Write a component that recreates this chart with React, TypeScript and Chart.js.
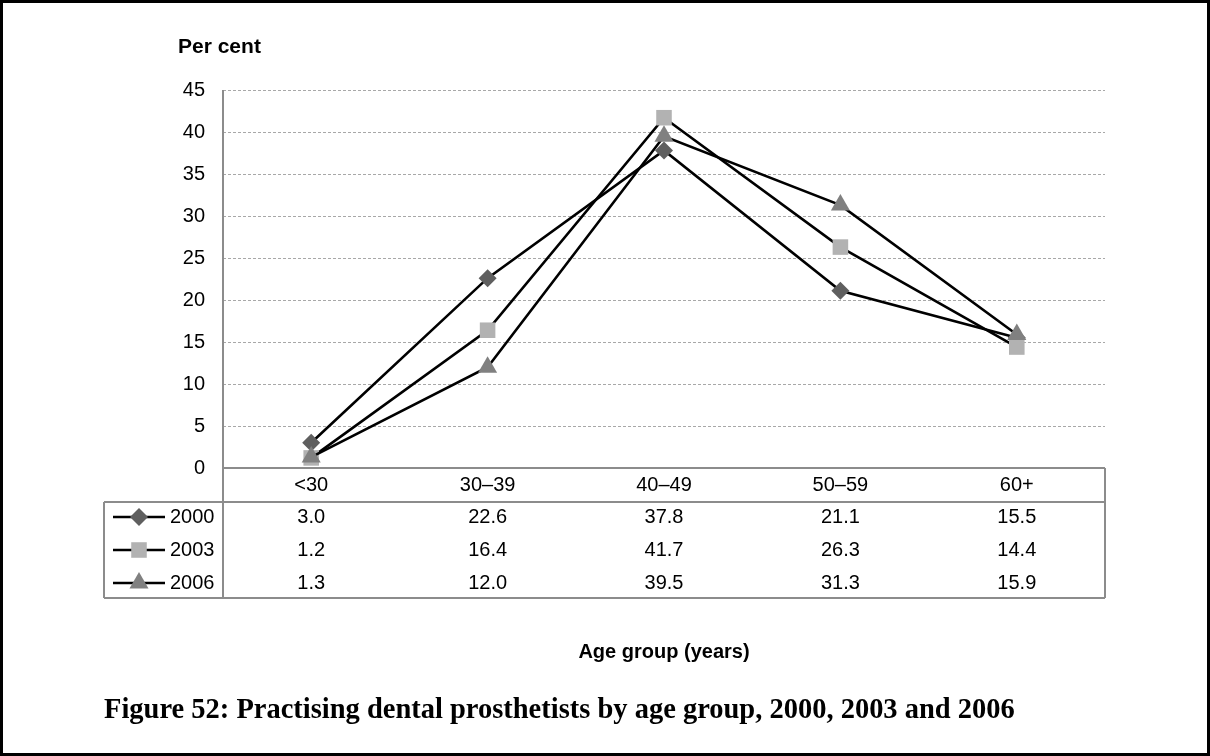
import React, { useEffect, useRef } from 'react';
import { Chart, registerables } from 'chart.js';

Chart.register(...registerables);

const categories = ['<30', '30–39', '40–49', '50–59', '60+'];
const seriesNames = ['2000', '2003', '2006'];
const values2000 = [3.0, 22.6, 37.8, 21.1, 15.5];
const values2003 = [1.2, 16.4, 41.7, 26.3, 14.4];
const values2006 = [1.3, 12.0, 39.5, 31.3, 15.9];
const yMin = 0;
const yMax = 45;
const yStep = 5;

const SANS = '"Liberation Sans", Arial, sans-serif';
const SERIF = '"Liberation Serif", "Times New Roman", serif';
const FONT_SIZE = 20;

const markerStyles = ['rectRot', 'rect', 'triangle'];
const markerColors = ['#5f5f5f', '#b2b2b2', '#808080'];
const markerRadii = [9, 11, 11];

function drawMarker(ctx: CanvasRenderingContext2D, style: string, x: number, y: number, r: number, color: string) {
  ctx.save();
  ctx.fillStyle = color;
  ctx.beginPath();
  if (style === 'rectRot') {
    ctx.moveTo(x, y - r);
    ctx.lineTo(x + r, y);
    ctx.lineTo(x, y + r);
    ctx.lineTo(x - r, y);
    ctx.closePath();
  } else if (style === 'rect') {
    const s = r * Math.SQRT1_2;
    ctx.rect(x - s, y - s, 2 * s, 2 * s);
  } else {
    ctx.moveTo(x, y - r);
    ctx.lineTo(x + r * Math.sin((2 * Math.PI) / 3), y - r * Math.cos((2 * Math.PI) / 3));
    ctx.lineTo(x + r * Math.sin((4 * Math.PI) / 3), y - r * Math.cos((4 * Math.PI) / 3));
    ctx.closePath();
  }
  ctx.fill();
  ctx.restore();
}

const tablePlugin = {
  id: 'tablePlugin',
  afterDraw(chart: any) {
    const ctx: CanvasRenderingContext2D = chart.ctx;
    const area = chart.chartArea;
    const xs = chart.scales.x;
    const left = area.left;
    const right = area.right;
    const bottom = area.bottom;
    const headerBottom = bottom + 34;
    const tableBottom = bottom + 130;
    const tableLeft = 104;
    const rowYs = [bottom + 49, bottom + 82, bottom + 115];

    ctx.save();
    ctx.strokeStyle = '#8c8c8c';
    ctx.lineWidth = 2;
    ctx.beginPath();
    ctx.moveTo(left, area.top);
    ctx.lineTo(left, tableBottom);
    ctx.moveTo(left, bottom);
    ctx.lineTo(right, bottom);
    ctx.moveTo(tableLeft, headerBottom);
    ctx.lineTo(right, headerBottom);
    ctx.moveTo(tableLeft, tableBottom);
    ctx.lineTo(right, tableBottom);
    ctx.moveTo(tableLeft, headerBottom);
    ctx.lineTo(tableLeft, tableBottom);
    ctx.moveTo(right, bottom);
    ctx.lineTo(right, tableBottom);
    ctx.stroke();

    ctx.fillStyle = '#000';
    ctx.font = `${FONT_SIZE}px ${SANS}`;
    ctx.textAlign = 'center';
    ctx.textBaseline = 'middle';
    chart.data.datasets.forEach((ds: any, di: number) => {
      ds.data.forEach((v: number, i: number) => {
        ctx.fillText(v.toFixed(1), xs.getPixelForValue(i), rowYs[di]);
      });
    });

    seriesNames.forEach((name, di) => {
      const y = rowYs[di];
      ctx.strokeStyle = '#000';
      ctx.lineWidth = 2.5;
      ctx.beginPath();
      ctx.moveTo(113, y);
      ctx.lineTo(165, y);
      ctx.stroke();
      drawMarker(ctx, markerStyles[di], 139, y, markerRadii[di], markerColors[di]);
      ctx.fillStyle = '#000';
      ctx.textAlign = 'left';
      ctx.fillText(name, 170, y);
    });

    ctx.font = `bold ${FONT_SIZE + 1}px ${SANS}`;
    ctx.textAlign = 'left';
    ctx.fillText('Per cent', 178, 47);
    ctx.font = `bold ${FONT_SIZE}px ${SANS}`;
    ctx.textAlign = 'center';
    ctx.fillText('Age group (years)', (left + right) / 2, bottom + 184);

    const caption = 'Figure 52: Practising dental prosthetists by age group, 2000, 2003 and 2006';
    ctx.font = `bold 22px ${SERIF}`;
    const w = ctx.measureText(caption).width;
    const size = (22 * 911) / w;
    ctx.font = `bold ${size.toFixed(2)}px ${SERIF}`;
    ctx.textAlign = 'left';
    ctx.textBaseline = 'alphabetic';
    ctx.fillText(caption, 104, 718);

    ctx.strokeStyle = '#000';
    ctx.lineWidth = 3;
    ctx.strokeRect(1.5, 1.5, chart.width - 3, chart.height - 3);
    ctx.restore();
  },
};

export default function App() {
  const ref = useRef<HTMLCanvasElement | null>(null);
  useEffect(() => {
    if (!ref.current) return;
    Chart.defaults.font.family = SANS;
    const datasetsValues = [values2000, values2003, values2006];
    const chart = new Chart(ref.current, {
      type: 'line',
      data: {
        labels: categories,
        datasets: datasetsValues.map((vals, i) => ({
          label: seriesNames[i],
          data: vals,
          borderColor: '#000',
          borderWidth: 2.6,
          tension: 0,
          fill: false,
          pointStyle: markerStyles[i] as any,
          pointRadius: markerRadii[i],
          pointBackgroundColor: markerColors[i],
          pointBorderColor: markerColors[i],
          pointBorderWidth: 0,
          order: 3 - i,
        })),
      },
      options: {
        animation: false,
        responsive: false,
        maintainAspectRatio: false,
        layout: { padding: { left: 0, top: 90, right: 105, bottom: 0 } },
        plugins: {
          legend: { display: false },
          tooltip: { enabled: false },
          title: { display: false },
        },
        scales: {
          x: {
            offset: true,
            grid: { display: false, drawTicks: false },
            border: { display: false },
            ticks: {
              color: '#000',
              font: { size: FONT_SIZE, family: SANS },
              padding: 5,
              maxRotation: 0,
              autoSkip: false,
            },
            afterFit: (s: any) => {
              s.height = 288;
            },
          },
          y: {
            min: yMin,
            max: yMax,
            ticks: {
              stepSize: yStep,
              color: '#000',
              font: { size: FONT_SIZE, family: SANS },
              padding: 18,
            },
            grid: { color: '#a8a8a8', lineWidth: 1, drawTicks: false },
            border: { display: false, dash: [3, 2] },
            afterFit: (s: any) => {
              s.width = 223;
            },
          },
        },
      },
      plugins: [tablePlugin],
    });
    return () => chart.destroy();
  }, []);
  return (
    <div style={{ position: 'absolute', left: 0, top: 0, width: 1210, height: 756, background: '#fff' }}>
      <canvas ref={ref} width={1210} height={756} />
    </div>
  );
}
